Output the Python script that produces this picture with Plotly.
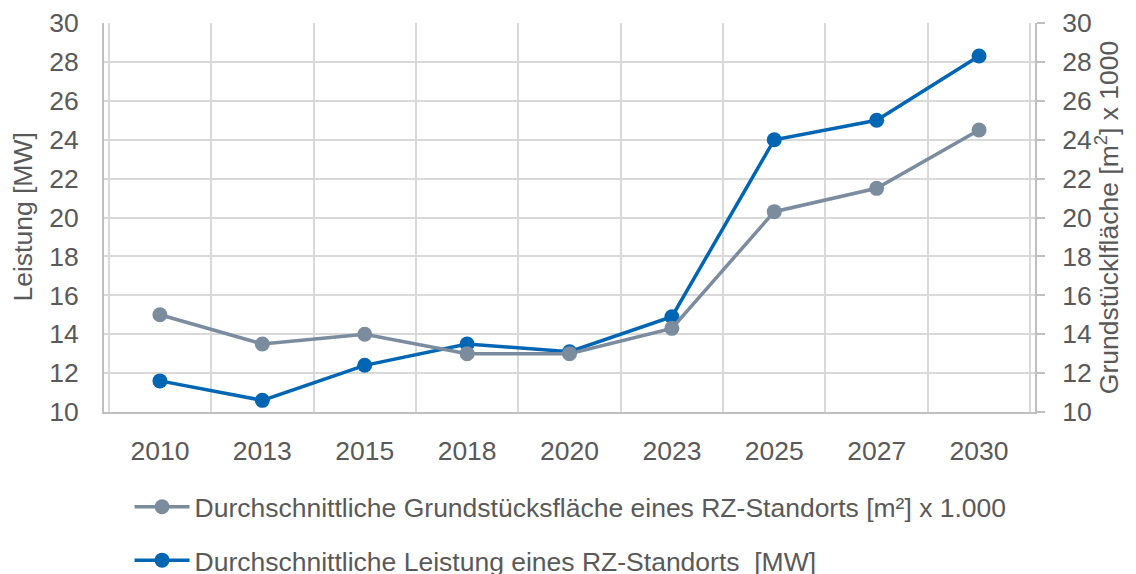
import plotly.graph_objects as go

years = ["2010", "2013", "2015", "2018", "2020", "2023", "2025", "2027", "2030"]
flaeche = [15.0, 13.5, 14.0, 13.0, 13.0, 14.3, 20.3, 21.5, 24.5]
leistung = [11.6, 10.6, 12.4, 13.5, 13.1, 14.9, 24.0, 25.0, 28.3]

name_flaeche = "Durchschnittliche Grundstücksfläche eines RZ-Standorts [m²] x 1.000"
name_leistung = "Durchschnittliche Leistung eines RZ-Standorts  [MW]"

txt = "#595959"
grid = "#d9d9d9"
font_fam = "Liberation Sans Narrow, Liberation Sans, sans-serif"
fs = 26.5

fig = go.Figure()

fig.add_trace(go.Scatter(
    x=years, y=flaeche, name=name_flaeche, yaxis="y2",
    mode="lines+markers",
    line=dict(color="#7A8C9E", width=3.5),
    marker=dict(size=15, color="#7A8C9E"),
    legendgroup="a",
))
fig.add_trace(go.Scatter(
    x=years, y=leistung, name=name_leistung,
    mode="lines+markers",
    line=dict(color="#0066B3", width=3.5),
    marker=dict(size=15, color="#0066B3"),
    legendgroup="b",
))

# axis titles as rotated annotations (axis title standoff misbehaves here)
fig.add_annotation(text="Leistung [MW]", xref="paper", yref="paper",
                   x=-0.088, y=0.5, textangle=-90, showarrow=False,
                   xanchor="center", yanchor="middle",
                   font=dict(size=fs, color=txt))
fig.add_annotation(text="Grundstücklfläche [m<sup>2</sup>] x 1000", xref="paper", yref="paper",
                   x=1.077, y=0.5, textangle=-90, showarrow=False,
                   xanchor="center", yanchor="middle",
                   font=dict(size=fs, color=txt))

# page body has an 8px margin, so shift everything up/left by that much
fig.update_layout(
    width=1136, height=574,
    margin=dict(l=96, r=109, t=15, b=170, autoexpand=False),
    paper_bgcolor="white", plot_bgcolor="white",
    font=dict(family=font_fam, size=fs, color=txt),
    xaxis=dict(
        type="category", tickson="boundaries", automargin=False,
        showgrid=True, gridcolor=grid, gridwidth=2,
        showline=True, linecolor="#bfbfbf", linewidth=2,
        ticks="", tickfont=dict(size=fs, color=txt),
        ticklabelstandoff=14,
    ),
    yaxis=dict(
        range=[10, 30], dtick=2, automargin=False,
        showgrid=True, gridcolor=grid, gridwidth=2,
        showline=True, linecolor="#bfbfbf", linewidth=2,
        zeroline=False,
        ticks="outside", ticklen=18, tickcolor="rgba(0,0,0,0)",
        tickfont=dict(size=fs, color=txt),
    ),
    yaxis2=dict(
        range=[10, 30], dtick=2, overlaying="y", side="right", automargin=False,
        showgrid=False, zeroline=False,
        showline=True, linecolor="#bfbfbf", linewidth=2,
        ticks="outside", ticklen=8, tickcolor="#bfbfbf", tickwidth=2,
        ticklabelstandoff=12,
        tickfont=dict(size=fs, color=txt),
    ),
    legend=dict(
        orientation="v", xref="container", yref="container",
        x=0.107, xanchor="left", y=0.1725, yanchor="top",
        font=dict(size=fs, color=txt), tracegroupgap=16,
        itemwidth=55, bgcolor="rgba(0,0,0,0)",
    ),
)

fig.write_html("out.html")
